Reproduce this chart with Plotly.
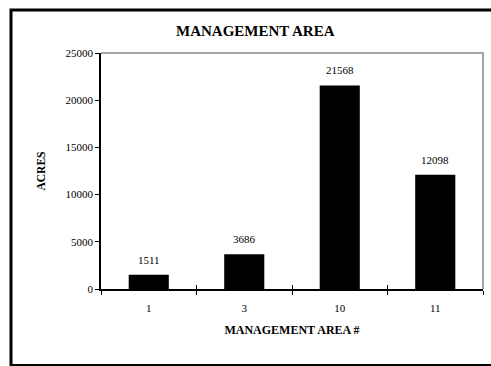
import plotly.graph_objects as go

# Acreage by management area
areas = ["1", "3", "10", "11"]
acres = [1511, 3686, 21568, 12098]
y_ticks = [0, 5000, 10000, 15000, 20000, 25000]

W, H = 491, 366
L, R, T, B = 101, 8, 53, 77
pw, ph = W - L - R, H - T - B

serif = "Liberation Serif, Times New Roman, serif"
x_range = [-0.5, len(areas) - 0.5]

fig = go.Figure()
fig.add_trace(go.Bar(
    x=areas, y=acres, width=0.42,
    marker=dict(color="black", line=dict(width=0)),
    hoverinfo="x+y",
))

# Second category axis carrying the inner half of the boundary ticks
fig.add_trace(go.Bar(x=areas, y=acres, xaxis="x2", opacity=0,
                     showlegend=False, hoverinfo="skip"))

annotations = [
    dict(text="<b>MANAGEMENT AREA</b>", xref="paper", yref="paper",
         x=(255 - L) / pw, y=1 + (T - 31) / ph, showarrow=False,
         font=dict(family=serif, size=15, color="black"),
         xanchor="center", yanchor="middle"),
]
# Value labels above each bar (category index positions)
for i, v in enumerate(acres):
    annotations.append(dict(x=i, y=v, xref="x", yref="y", text=str(v),
                            showarrow=False, yshift=15,
                            font=dict(family=serif, size=11, color="black")))

fig.update_layout(
    width=W, height=H,
    margin=dict(l=L, r=R, t=T, b=B),
    paper_bgcolor="white", plot_bgcolor="white",
    showlegend=False,
    barmode="overlay",
    font=dict(family=serif, size=11, color="black"),
    xaxis=dict(
        type="category", range=x_range, tickson="boundaries", ticks="outside",
        ticklen=4, tickwidth=1, tickcolor="black",
        showline=True, linecolor="black", linewidth=1.5,
        showgrid=False, zeroline=False,
        tickfont=dict(family=serif, size=11), ticklabelstandoff=8,
        title=dict(text="<b>MANAGEMENT AREA #</b>",
                   font=dict(family=serif, size=12), standoff=13),
    ),
    xaxis2=dict(
        type="category", range=x_range, overlaying="x", side="bottom",
        tickson="boundaries", ticks="inside", ticklen=4, tickwidth=1,
        tickcolor="black", showticklabels=False, showline=False,
        showgrid=False, zeroline=False,
    ),
    yaxis=dict(
        range=[0, 25000], tickvals=y_ticks, tickformat="d",
        ticks="outside", ticklen=4, tickwidth=1, tickcolor="black",
        showline=True, linecolor="black", linewidth=1.5,
        showgrid=False, zeroline=False,
        tickfont=dict(family=serif, size=11),
        title=dict(text="<b>ACRES</b>", font=dict(family=serif, size=11.5),
                   standoff=18),
    ),
    shapes=[
        # gray frame on the top and right of the plot area
        dict(type="path", xref="paper", yref="paper",
             path="M 0 1 L 1 1 L 1 0", line=dict(color="#888888", width=1.5),
             layer="below"),
        # outer chart border
        dict(type="rect", xref="paper", yref="paper",
             x0=(11 - L) / pw, x1=(493 - L) / pw,
             y0=-(365.5 - T - ph) / ph, y1=1 + (T - 10) / ph,
             line=dict(color="black", width=3)),
    ],
    annotations=annotations,
)

fig.write_html("out.html")
